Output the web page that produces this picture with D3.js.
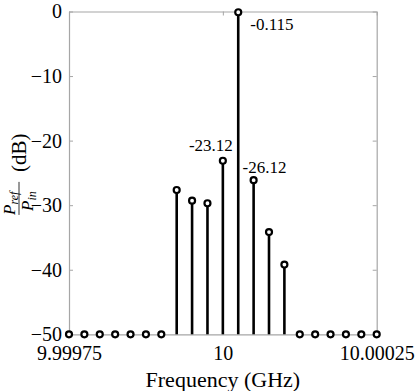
<!DOCTYPE html>
<html>
<head>
<meta charset="utf-8">
<script src="https://cdn.jsdelivr.net/npm/d3@7"></script>
<style>
  body { margin: 0; background: #fff; }
  svg text { font-family: "Liberation Serif", "DejaVu Serif", "Times New Roman", Times, serif; fill: #000; }
</style>
</head>
<body>
<div id="chart"></div>
<script>
// frequency of each spectral line (GHz)
let freqs = [
  9.99975, 9.999775, 9.9998, 9.999825, 9.99985, 9.999875, 9.9999,
  9.999925, 9.99995, 9.999975, 10.0, 10.000025, 10.00005, 10.000075,
  10.0001, 10.000125, 10.00015, 10.000175, 10.0002, 10.000225, 10.00025
];
// reflected power ratio (dB), -50 is the floor of the plot
let powerDb = [
  -50, -50, -50, -50, -50, -50, -50,
  -27.65, -29.3, -29.7, -23.12, -0.115, -26.12, -34.16,
  -39.2, -50, -50, -50, -50, -50, -50
];
let xTicks = [9.99975, 10, 10.00025];
let xTickLabels = ["9.99975", "10", "10.00025"];
let yTicks = [0, -10, -20, -30, -40, -50];
// labelled peaks: index into freqs
let peakLabels = [
  { idx: 11, text: "-0.115" },
  { idx: 10, text: "-23.12" },
  { idx: 12, text: "-26.12" }
];

let width = 415, height = 391;
let margin = { left: 69, right: 38.3, top: 11.5, bottom: 56.7 };
let serif = '"Liberation Serif", "DejaVu Serif", "Times New Roman", Times, serif';

let svg = d3.select("#chart").append("svg")
  .attr("width", width)
  .attr("height", height)
  .attr("font-family", serif);

let x = d3.scaleLinear().domain([9.99975, 10.00025]).range([margin.left, width - margin.right]);
let y = d3.scaleLinear().domain([-50, 0]).range([height - margin.bottom, margin.top]);

let axisColor = "#a6a6a6";

// axes, ticks inward like matlab
let gx = svg.append("g")
  .attr("transform", `translate(0,${y(-50)})`)
  .call(d3.axisBottom(x).tickValues(xTicks).tickFormat((d, i) => xTickLabels[i])
    .tickSizeInner(-4).tickSizeOuter(0).tickPadding(12));
let gxTop = svg.append("g")
  .attr("transform", `translate(0,${y(0)})`)
  .call(d3.axisTop(x).tickValues(xTicks).tickFormat("").tickSizeInner(-4).tickSizeOuter(0));
let gy = svg.append("g")
  .attr("transform", `translate(${x(9.99975)},0)`)
  .call(d3.axisLeft(y).tickValues(yTicks).tickFormat(d3.format("d"))
    .tickSizeInner(-4).tickSizeOuter(0).tickPadding(7));
let gyRight = svg.append("g")
  .attr("transform", `translate(${x(10.00025)},0)`)
  .call(d3.axisRight(y).tickValues(yTicks).tickFormat("").tickSizeInner(-4).tickSizeOuter(0));

[gx, gxTop, gy, gyRight].forEach(g => {
  g.attr("font-family", serif).attr("font-size", 20);
  g.select(".domain").attr("stroke", axisColor).attr("stroke-width", 1.2);
  g.selectAll(".tick line").attr("stroke", axisColor);
  g.selectAll(".tick text").attr("fill", "#000");
});

// stems
let data = freqs.map((f, i) => ({ f: f, v: powerDb[i] }));

svg.append("g").selectAll("line")
  .data(data.filter(d => d.v > -50))
  .enter().append("line")
  .attr("x1", d => x(d.f)).attr("x2", d => x(d.f))
  .attr("y1", y(-50)).attr("y2", d => y(d.v))
  .attr("stroke", "#000").attr("stroke-width", 2.6);

// markers
svg.append("g").selectAll("circle")
  .data(data)
  .enter().append("circle")
  .attr("cx", d => x(d.f)).attr("cy", d => y(d.v))
  .attr("r", 3)
  .attr("fill", "#fff")
  .attr("stroke", "#000")
  .attr("stroke-width", 2.2);

// peak value labels
let labelOffset = { 11: [12, 18, "start"], 10: [-12, -10, "middle"], 12: [-11, -7, "start"] };
svg.append("g").selectAll("text")
  .data(peakLabels)
  .enter().append("text")
  .attr("x", d => x(freqs[d.idx]) + labelOffset[d.idx][0])
  .attr("y", d => y(powerDb[d.idx]) + labelOffset[d.idx][1])
  .attr("text-anchor", d => labelOffset[d.idx][2])
  .attr("font-size", "17px")
  .text(d => d.text);

// x label
svg.append("text")
  .attr("x", (x.range()[0] + x.range()[1]) / 2)
  .attr("y", 387)
  .attr("text-anchor", "middle")
  .attr("font-size", "22px")
  .text("Frequency (GHz)");

// y label: fraction P_ref / P_in followed by (dB), rotated
let ylab = svg.append("g")
  .attr("transform", `translate(19,${(y.range()[0] + y.range()[1]) / 2}) rotate(-90)`);
ylab.append("line")
  .attr("x1", -42).attr("x2", -9).attr("y1", 0).attr("y2", 0)
  .attr("stroke", "#333").attr("stroke-width", 1);
let num = ylab.append("text").attr("x", -42).attr("y", -4).attr("font-style", "italic");
num.append("tspan").attr("font-size", "17px").text("P");
num.append("tspan").attr("font-size", "12px").attr("dy", 3).text("ref");
let den = ylab.append("text").attr("x", -38).attr("y", 14).attr("font-style", "italic");
den.append("tspan").attr("font-size", "17px").text("P");
den.append("tspan").attr("font-size", "12px").attr("dy", 3).text("in");
ylab.append("text")
  .attr("x", 1).attr("y", 7)
  .attr("font-size", "21px")
  .text("(dB)");
</script>
</body>
</html>
